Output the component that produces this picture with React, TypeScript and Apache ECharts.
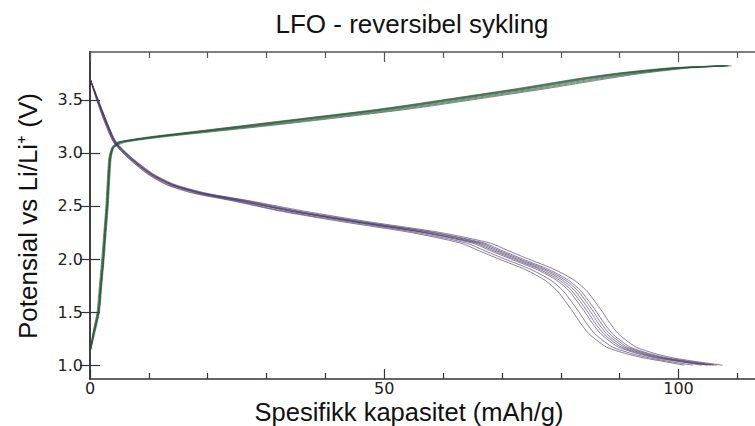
import { useEffect, useRef } from "react";
import * as echarts from "echarts";

const TITLE = "LFO - reversibel sykling";
const X_NAME = "Spesifikk kapasitet (mAh/g)";
const Y_NAME = "Potensial vs Li/Li\u207A (V)";

const X_TICKS = [0, 50, 100];
const X_MINOR_TICKS = [10, 20, 30, 40, 60, 70, 80, 90, 110];
const Y_TICKS = [1.0, 1.5, 2.0, 2.5, 3.0, 3.5];

// Discharge (purple): shared voltage grid, capacity per cycle
const DISCHARGE_V = [3.7, 3.5, 3.3, 3.1, 2.95, 2.8, 2.7, 2.62, 2.55, 2.45, 2.35, 2.25, 2.15, 2.08, 2.0, 1.9, 1.8, 1.7, 1.6, 1.5, 1.4, 1.3, 1.24, 1.17, 1.11, 1.07, 1.03, 1.0];
const D1 = [0, 1.3, 2.7, 4.3, 7.0, 10.5, 14.0, 19.0, 26.0, 35.0, 46.0, 58.0, 66.5, 69.5, 73.0, 77.5, 80.8, 82.9, 84.3, 85.6, 86.8, 88.2, 89.5, 91.3, 94.5, 97.5, 102.0, 106.0];
const D2 = [0, 1.2, 2.6, 4.2, 6.8, 10.2, 13.6, 18.5, 25.0, 34.0, 45.0, 56.5, 65.0, 68.0, 71.5, 76.0, 79.3, 81.4, 82.8, 84.1, 85.3, 86.7, 88.0, 89.8, 93.0, 96.0, 100.5, 104.0];
const D3 = [0, 1.4, 2.8, 4.5, 7.2, 10.8, 14.5, 19.8, 27.0, 36.5, 47.5, 59.5, 68.0, 71.0, 74.5, 79.0, 82.3, 84.4, 85.8, 87.1, 88.3, 89.7, 91.0, 92.8, 96.0, 99.0, 103.5, 107.5];
const D4 = [0, 1.3, 2.6, 4.3, 6.9, 10.4, 14.0, 19.0, 25.5, 34.5, 45.5, 57.0, 65.5, 68.5, 72.0, 76.5, 79.8, 81.9, 83.3, 84.6, 85.8, 87.2, 88.5, 90.3, 93.5, 96.5, 101.0, 105.0];
const D5 = [0, 1.2, 2.5, 4.1, 6.6, 10.0, 13.2, 18.0, 24.5, 33.0, 44.0, 55.5, 64.0, 67.0, 70.5, 75.0, 78.3, 80.4, 81.8, 83.1, 84.3, 85.7, 87.0, 88.8, 92.0, 95.0, 99.0, 102.5];
const D6 = [0, 1.4, 2.8, 4.4, 7.1, 10.6, 14.2, 19.4, 26.5, 35.5, 46.5, 58.5, 67.0, 70.0, 73.5, 78.0, 81.3, 83.4, 84.8, 86.1, 87.3, 88.7, 90.0, 91.8, 95.0, 98.0, 102.5, 106.5];
const D7 = [0, 1.3, 2.7, 4.2, 6.8, 10.3, 13.8, 18.8, 25.5, 34.5, 45.0, 57.0, 66.0, 69.0, 72.5, 77.0, 80.3, 82.4, 83.8, 85.1, 86.3, 87.7, 89.0, 90.8, 94.0, 97.0, 101.5, 105.5];
const D8 = [0, 1.1, 2.4, 4.0, 6.5, 9.8, 13.0, 17.5, 24.0, 32.5, 43.0, 54.5, 63.0, 66.0, 69.5, 74.0, 77.3, 79.4, 80.8, 82.1, 83.3, 84.7, 86.0, 87.8, 91.0, 94.0, 98.0, 101.0];
const DISCHARGE_CYCLES = [D1, D2, D3, D4, D5, D6, D7, D8];

// Charge (green): shared voltage grid, capacity per cycle
const CHARGE_V = [1.12, 1.3, 1.5, 1.75, 2.0, 2.25, 2.5, 2.75, 2.95, 3.05, 3.1, 3.15, 3.2, 3.25, 3.3, 3.35, 3.4, 3.45, 3.5, 3.55, 3.6, 3.65, 3.7, 3.75, 3.8, 3.82];
const C1 = [0, 0.6, 1.4, 1.8, 2.2, 2.55, 2.9, 3.15, 3.4, 3.9, 5.0, 11.0, 18.5, 26.0, 33.5, 41.0, 48.5, 55.0, 61.0, 67.0, 73.0, 78.5, 84.0, 90.5, 99.5, 108.0];
const C2 = [0, 0.7, 1.5, 1.9, 2.3, 2.65, 3.0, 3.25, 3.5, 4.0, 5.5, 11.5, 19.5, 27.5, 35.5, 43.0, 50.5, 57.0, 63.0, 69.0, 75.0, 80.5, 86.0, 92.5, 101.0, 108.5];
const C3 = [0, 0.5, 1.3, 1.7, 2.1, 2.45, 2.8, 3.05, 3.3, 3.8, 4.8, 10.5, 18.0, 25.5, 33.0, 40.5, 48.0, 54.5, 60.5, 66.5, 72.5, 78.0, 83.5, 90.0, 99.0, 107.5];
const C4 = [0, 0.6, 1.5, 1.9, 2.3, 2.6, 2.95, 3.2, 3.45, 3.95, 5.2, 11.0, 19.0, 27.0, 34.5, 42.0, 49.5, 56.0, 62.0, 68.0, 74.0, 79.5, 85.0, 91.5, 100.0, 108.0];
const C5 = [0, 0.8, 1.6, 2.0, 2.4, 2.75, 3.1, 3.35, 3.6, 4.1, 6.0, 12.5, 21.0, 29.5, 37.5, 45.0, 52.5, 59.0, 65.0, 71.0, 77.0, 82.5, 88.0, 94.0, 102.0, 109.0];
const C6 = [0, 0.6, 1.4, 1.8, 2.2, 2.5, 2.85, 3.1, 3.35, 3.85, 5.0, 10.8, 18.5, 26.5, 34.0, 41.5, 49.0, 55.5, 61.5, 67.5, 73.5, 79.0, 84.5, 91.0, 100.0, 108.0];
const C7 = [0, 0.7, 1.5, 1.9, 2.3, 2.6, 2.95, 3.2, 3.45, 3.95, 5.3, 11.5, 20.0, 28.5, 36.5, 44.0, 51.5, 58.0, 64.0, 70.0, 76.0, 81.5, 87.0, 93.0, 101.0, 108.5];
const C8 = [0, 0.5, 1.2, 1.6, 2.0, 2.35, 2.7, 2.95, 3.2, 3.7, 4.6, 10.0, 17.5, 25.0, 32.5, 40.0, 47.5, 54.0, 60.0, 66.0, 72.0, 77.5, 83.0, 89.5, 98.5, 107.0];
const CHARGE_CYCLES = [C1, C2, C3, C4, C5, C6, C7, C8];

const X_MIN = 0;
const X_MAX = 113;
const Y_MIN = 0.87;
const Y_MAX = 3.95;

export default function App() {
  const ref = useRef<HTMLDivElement>(null);

  useEffect(() => {
    document.body.style.margin = "0";
    if (!ref.current) return;
    const chart = echarts.init(ref.current, undefined, { renderer: "svg" });

    const axisColor = "#333";
    const labelStyle = {
      fontFamily: "DejaVu Sans",
      fontSize: 16,
      color: "#222",
    };

    const green = "#2d5a3b";
    const purple = "#4a3868";

    const series: any[] = [];
    CHARGE_CYCLES.forEach((caps, i) => {
      series.push({
        type: "line",
        name: "charge" + i,
        xAxisIndex: 0,
        yAxisIndex: 0,
        data: caps.map((c, j) => [c, CHARGE_V[j]]),
        showSymbol: false,
        smooth: 0.2,
        silent: true,
        lineStyle: { color: green, width: 1, opacity: 0.65 },
        z: 2,
      });
    });
    DISCHARGE_CYCLES.forEach((caps, i) => {
      series.push({
        type: "line",
        name: "discharge" + i,
        xAxisIndex: 0,
        yAxisIndex: 0,
        data: caps.map((c, j) => [c, DISCHARGE_V[j]]),
        showSymbol: false,
        smooth: 0.25,
        silent: true,
        lineStyle: { color: purple, width: 1, opacity: 0.65 },
        z: 3,
      });
    });

    const xBase = {
      type: "value",
      gridIndex: 0,
      min: X_MIN,
      max: X_MAX,
      splitLine: { show: false },
    };
    const yBase = {
      type: "value",
      gridIndex: 0,
      min: Y_MIN,
      max: Y_MAX,
      splitLine: { show: false },
    };
    const textStyle = {
      fontFamily: "Liberation Sans",
      fontSize: 26,
      lineHeight: 24,
      fill: "#111",
      textAlign: "center",
      textVerticalAlign: "middle",
    };

    chart.setOption({
      animation: false,
      grid: { left: 90, top: 52, width: 667, height: 327, containLabel: false },
      graphic: [
        { type: "text", x: 412, y: 24, style: { ...textStyle, text: TITLE } },
        { type: "text", x: 409, y: 412, style: { ...textStyle, fontSize: 25.5, text: X_NAME } },
        { type: "text", x: 28, y: 216, rotation: Math.PI / 2, style: { ...textStyle, text: Y_NAME } },
      ],
      xAxis: [
        {
          ...xBase,
          position: "bottom",
          axisLine: { show: true, lineStyle: { color: axisColor, width: 1.5 } },
          axisTick: { show: true, inside: true, length: 10, customValues: X_TICKS, lineStyle: { color: axisColor, width: 1.2 } },
          axisLabel: {
            show: true,
            margin: 2,
            customValues: X_TICKS,
            ...labelStyle,
            lineHeight: 15,
            formatter: (v: number) => String(Math.round(v)),
          },
        },
        {
          ...xBase,
          position: "bottom",
          axisLine: { show: false },
          axisTick: { show: true, inside: true, length: 6, customValues: X_MINOR_TICKS, lineStyle: { color: axisColor, width: 1.2 } },
          axisLabel: { show: false },
        },
        {
          ...xBase,
          position: "top",
          axisLine: { show: true, lineStyle: { color: "#555", width: 1.5 } },
          axisTick: { show: true, inside: true, length: 10, customValues: X_TICKS, lineStyle: { color: "#555", width: 1.2 } },
          axisLabel: { show: false },
        },
        {
          ...xBase,
          position: "top",
          axisLine: { show: false },
          axisTick: { show: true, inside: true, length: 6, customValues: X_MINOR_TICKS, lineStyle: { color: "#555", width: 1.2 } },
          axisLabel: { show: false },
        },
      ],
      yAxis: [
        {
          ...yBase,
          position: "left",
          axisLine: { show: true, lineStyle: { color: axisColor, width: 1.5 } },
          axisTick: { show: true, inside: true, length: 10, customValues: Y_TICKS, lineStyle: { color: axisColor, width: 1.2 } },
          axisLabel: {
            show: true,
            margin: 7,
            customValues: Y_TICKS,
            ...labelStyle,
            formatter: (v: number) => v.toFixed(1),
          },
        },
        {
          ...yBase,
          position: "right",
          axisLine: { show: true, lineStyle: { color: axisColor, width: 1.5 } },
          axisTick: { show: true, inside: true, length: 10, customValues: Y_TICKS, lineStyle: { color: axisColor, width: 1.2 } },
          axisLabel: { show: false },
        },
      ],
      series,
    });

    return () => {
      chart.dispose();
    };
  }, []);

  return <div ref={ref} style={{ width: 755, height: 426 }} />;
}
